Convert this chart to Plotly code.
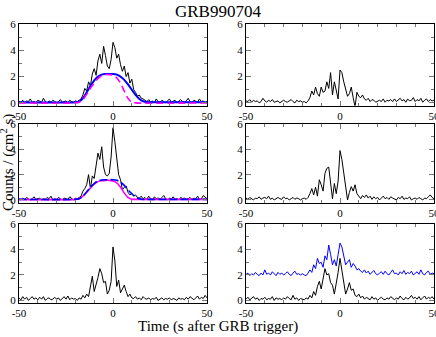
import numpy as np
import plotly.graph_objects as go

# time bins, 1 s wide
t = list(range(-50, 51))
xtick_vals = [-50, 0, 50]
xtick_text = ["-50", "0", "50"]
ytick_vals = [0, 2, 4, 6]

# light curves, counts / (cm^2 s)
p1 = [0.10, 0.05, 0.20, 0.00, 0.15, 0.10, 0.30, 0.05, 0.10, 0.00,
      0.20, 0.10, 0.05, 0.35, 0.10, 0.00, 0.15, 0.05, 0.20, 0.10,
      0.00, 0.10, 0.25, 0.05, 0.10, 0.15, 0.00, 0.20, 0.10, 0.05,
      0.15, 0.10, 0.20, 0.30, 0.60, 1.10, 0.90, 1.60, 1.30, 2.20,
      2.60, 2.10, 3.20, 3.70, 3.00, 4.30, 3.60, 2.80, 2.60, 3.30,
      4.60, 4.20, 3.40, 3.70, 2.90, 2.40, 2.80, 2.00, 2.30, 1.50,
      1.80, 1.00, 0.80, 0.50, 0.60, 0.35, 0.30, 0.20, 0.10, 0.25,
      0.05, 0.15, 0.00, 0.30, 0.10, 0.05, 0.20, 0.10, 0.00, 0.15,
      0.30, 0.05, 0.10, 0.20, 0.00, 0.10, 0.25, 0.10, 0.05, 0.15,
      0.35, 0.10, 0.00, 0.20, 0.10, 0.05, 0.30, 0.10, 0.15, 0.00,
      0.10]

p2 = [0.15, 0.10, 0.25, 0.05, 0.20, 0.10, 0.15, 0.00, 0.10, 0.35,
      0.15, 0.05, 0.20, 0.10, 0.25, 0.05, 0.10, 0.15, 0.00, 0.10,
      0.20, 0.10, 0.05, 0.15, 0.25, 0.10, 0.00, 0.20, 0.10, 0.15,
      0.05, 0.10, 0.00, 0.15, 0.40, 0.90, 0.60, 1.20, 0.70, 0.50,
      1.20, 0.80, 0.90, 1.60, 1.10, 2.30, 0.60, 1.60, 1.00, 0.30,
      2.50, 2.30, 1.60, 1.10, 0.50, 0.70, 1.20, 0.40, -0.30, 0.80,
      0.50, 0.40, 0.60, 0.30, 0.20, 0.35, 0.10, 0.25, 0.20, 0.05,
      0.15, 0.20, 0.10, 0.30, 0.05, 0.20, 0.15, 0.25, 0.10, 0.30,
      0.10, 0.20, 0.35, 0.15, 0.25, 0.05, 0.30, 0.15, 0.20, 0.40,
      0.10, 0.25, 0.15, 0.35, 0.05, 0.20, 0.30, 0.10, 0.25, 0.15,
      0.20]

p3 = [0.10, 0.00, 0.15, 0.05, 0.20, 0.10, 0.00, 0.10, 0.25, 0.05,
      0.10, 0.15, 0.00, 0.10, 0.05, 0.20, 0.10, 0.30, 0.00, 0.10,
      0.05, 0.20, 0.10, 0.00, 0.15, 0.10, 0.05, 0.25, 0.10, 0.00,
      0.15, 0.10, 0.20, 0.30, 0.70, 0.90, 1.20, 2.00, 0.90, 1.90,
      1.70, 2.80, 3.70, 3.20, 4.20, 2.60, 2.00, 1.90, 2.10, 3.40,
      5.70, 4.60, 3.50, 2.00, 1.60, 0.80, 1.00, 1.10, 0.60, 0.40,
      0.50, 0.30, 0.40, 0.20, 0.15, 0.30, 0.10, 0.20, 0.05, 0.30,
      0.10, 0.00, 0.25, 0.10, 0.15, 0.05, 0.20, 0.35, 0.10, 0.00,
      0.15, 0.10, 0.25, 0.05, 0.10, 0.00, 0.20, 0.10, 0.15, 0.05,
      0.10, 0.20, 0.00, 0.15, 0.10, 0.30, 0.05, 0.10, 0.35, 0.20,
      0.10]

p4 = [0.15, 0.05, 0.20, 0.10, 0.00, 0.15, 0.10, 0.25, 0.05, 0.15,
      0.20, 0.10, 0.30, 0.05, 0.15, 0.00, 0.10, 0.20, 0.10, 0.05,
      0.25, 0.10, 0.15, 0.00, 0.10, 0.20, 0.05, 0.15, 0.10, 0.00,
      0.10, 0.15, 0.05, 0.20, 0.50, 0.90, 0.40, 1.00, 0.30, 1.60,
      1.20, 0.70, 2.10, 2.50, 2.60, 1.20, 0.10, 1.30, 0.50, 1.50,
      3.90, 3.20, 2.00, 0.80, 0.00, 0.60, 1.05, 0.70, 1.20, 0.50,
      0.30, 0.10, 0.35, 0.20, 0.40, 0.15, 0.30, 0.05, 0.25, 0.10,
      0.20, 0.00, 0.15, 0.30, 0.10, 0.20, 0.05, 0.25, 0.15, 0.10,
      0.00, 0.20, 0.10, 0.30, 0.05, 0.15, 0.10, 0.25, 0.00, 0.10,
      0.15, 0.05, 0.20, 0.10, 0.00, 0.15, 0.10, 0.25, 0.40, 0.20,
      0.10]

p5 = [0.20, 0.05, 0.30, 0.10, 0.25, 0.00, 0.15, 0.30, 0.10, 0.20,
      0.05, 0.25, 0.10, 0.30, 0.00, 0.15, 0.20, 0.05, 0.10, 0.25,
      0.10, 0.20, 0.00, 0.15, 0.30, 0.10, 0.35, 0.05, 0.20, 0.10,
      0.15, 0.00, 0.20, 0.10, 0.40, 0.20, 0.50, 0.30, 1.00, 1.90,
      0.70, 1.20, 1.80, 2.50, 2.10, 1.40, 1.50, 0.50, 0.80, 1.50,
      4.20, 3.10, 1.10, 1.60, 0.60, 0.90, 1.20, 0.70, 0.30, 0.50,
      0.20, 0.15, 0.30, 0.10, 0.20, 0.05, 0.30, 0.15, 0.10, 0.20,
      0.05, 0.15, 0.10, 0.25, 0.00, 0.10, 0.20, 0.05, 0.15, 0.10,
      0.20, 0.05, 0.15, 0.10, 0.00, 0.20, 0.10, 0.15, 0.05, 0.25,
      0.10, 0.30, 0.15, 0.05, 0.20, 0.35, 0.10, 0.25, 0.15, 0.40,
      0.20]

p6 = [0.10, 0.25, 0.05, 0.15, 0.30, 0.10, 0.20, 0.00, 0.15, 0.10,
      0.25, 0.05, 0.15, 0.10, 0.30, 0.00, 0.20, 0.10, 0.15, 0.05,
      0.20, 0.10, 0.30, 0.15, 0.05, 0.40, 0.10, 0.20, 0.00, 0.15,
      0.10, 0.05, 0.20, 0.10, 0.40, 0.20, 0.70, 0.40, 1.10, 1.50,
      0.90, 1.60, 2.50, 2.00, 2.10, 1.40, 1.20, 0.50, 1.30, 2.20,
      3.30, 2.30, 1.50, 0.50, 0.90, 1.40, 0.80, 0.90, 0.40, 0.30,
      0.50, 0.20, 0.35, 0.10, 0.25, 0.15, 0.05, 0.30, 0.10, 0.20,
      0.00, 0.15, 0.25, 0.10, 0.05, 0.20, 0.10, 0.30, 0.15, 0.05,
      0.20, 0.10, 0.35, 0.15, 0.05, 0.25, 0.10, 0.20, 0.40, 0.15,
      0.25, 0.10, 0.30, 0.05, 0.20, 0.35, 0.10, 0.25, 0.15, 0.30,
      0.10]

p6_blue = [2.05, 2.15, 1.95, 2.10, 2.00, 2.20, 2.05, 1.95, 2.15, 2.00,
           2.40, 2.05, 2.15, 2.00, 2.25, 2.10, 1.95, 2.20, 2.05, 2.15,
           2.00, 2.10, 2.25, 2.05, 1.95, 2.15, 2.30, 2.05, 2.10, 2.00,
           2.10, 2.00, 1.95, 2.15, 2.40, 2.20, 2.80, 2.50, 3.30, 2.90,
           3.00, 2.60, 3.50, 3.20, 4.35, 3.60, 2.80, 3.20, 2.70, 3.60,
           4.50, 4.20, 3.50, 2.80, 3.00, 3.20, 2.60, 2.90, 2.70, 2.40,
           2.50, 2.30, 2.20, 2.40, 2.15, 2.30, 2.05, 2.20, 2.35, 2.10,
           2.00, 2.15, 2.25, 2.05, 2.30, 2.10, 2.00, 2.20, 2.40, 2.10,
           2.15, 2.00, 2.25, 2.10, 2.35, 2.05, 2.20, 2.10, 2.30, 2.00,
           2.15, 2.25, 2.05, 2.40, 2.10, 2.00, 2.20, 2.30, 2.05, 2.15,
           2.10]

# pulse fits (panel 1 and 3)
fit1_t = [-50, -20, -18, -16, -14, -12, -10, -8, -6, -4, -2, 0, 2, 4, 6, 8, 10, 12, 14, 16, 18, 20, 50]
fit1_blue = [0.05, 0.05, 0.1, 0.35, 0.8, 1.3, 1.7, 2.0, 2.15, 2.2, 2.2, 2.2, 2.15, 2.0, 1.75, 1.4, 1.0, 0.6, 0.3, 0.12, 0.06, 0.05, 0.05]
fit1m_t = [-50, -20, -18, -16, -14, -12, -10, -8, -6, -4, -2, 0, 2, 4, 6, 8, 10, 12, 50]
fit1_mag = [0.0, 0.0, 0.05, 0.25, 0.65, 1.1, 1.5, 1.85, 2.05, 2.15, 2.15, 2.1, 1.9, 1.5, 0.9, 0.35, 0.05, 0.0, 0.0]

fit3_t = [-50, -20, -18, -16, -14, -12, -10, -8, -6, -4, -2, 0, 2, 4, 6, 8, 10, 12, 14, 16, 18, 50]
fit3_blue = [0.05, 0.05, 0.1, 0.3, 0.65, 1.0, 1.3, 1.5, 1.58, 1.6, 1.6, 1.6, 1.55, 1.4, 1.15, 0.8, 0.5, 0.25, 0.1, 0.05, 0.05, 0.05]
fit3m_t = [-50, -20, -18, -16, -14, -12, -10, -8, -6, -4, -2, 0, 2, 4, 6, 8, 10, 12, 50]
fit3_mag = [0.05, 0.05, 0.1, 0.3, 0.6, 0.95, 1.25, 1.45, 1.52, 1.55, 1.55, 1.5, 1.35, 1.0, 0.55, 0.2, 0.06, 0.05, 0.05]

for s in (p1, p2, p3, p4, p5, p6, p6_blue):
    assert len(s) == len(t)

FONT = "Liberation Serif, Times New Roman, serif"
BLUE = "#0000ff"
MAG = "#ff00ff"

fig = go.Figure()

def add(x, y, k, color="black", width=1, dash="solid", shape="linear"):
    fig.add_trace(go.Scatter(x=x, y=y, mode="lines", xaxis="x%d" % k, yaxis="y%d" % k,
                             line=dict(color=color, width=width, dash=dash, shape=shape),
                             showlegend=False, hoverinfo="skip"))

add(t, p1, 1)
add(fit1_t, fit1_blue, 1, BLUE, 2, shape="spline")
add(fit1m_t, fit1_mag, 1, MAG, 1.6, dash="7px,4px", shape="spline")
add(t, p2, 2)
add(t, p3, 3)
add(fit3m_t, fit3_mag, 3, MAG, 1.6, shape="spline")
add(fit3_t, fit3_blue, 3, BLUE, 1.6, dash="8px,3px", shape="spline")
add(t, p4, 4)
add(t, p5, 5)
add(t, p6, 6)
add(t, p6_blue, 6, BLUE, 1)

W, H = 436, 337
xdom = [[19 / W, 207 / W], [246 / W, 434 / W]]
ydom = [[1 - 105.5 / H, 1 - 24 / H], [1 - 202.5 / H, 1 - 124 / H], [1 - 303 / H, 1 - 224 / H]]

lay = {}
for k in range(1, 7):
    row, col = (k - 1) // 2, (k - 1) % 2
    sfx = "" if k == 1 else str(k)
    lay["xaxis" + sfx] = dict(domain=xdom[col], anchor="y" + sfx if sfx else "y", range=[-50, 50],
                              tickvals=xtick_vals, ticktext=xtick_text,
                              ticks="inside", ticklen=5, tickcolor="#777",
                              minor=dict(dtick=10, ticklen=3, ticks="inside", tickcolor="#777"),
                              showline=True, linecolor="black", linewidth=1, mirror="allticks",
                              showgrid=False, zeroline=False, automargin=False,
                              ticklabeloverflow="allow",
                              tickfont=dict(family=FONT, size=11, color="black"))
    lay["yaxis" + sfx] = dict(domain=ydom[row], anchor="x" + sfx if sfx else "x", range=[-0.2, 6],
                              tickvals=ytick_vals, ticks="inside", ticklen=5, tickcolor="#777",
                              minor=dict(dtick=1, ticklen=3, ticks="inside", tickcolor="#777"),
                              showline=True, linecolor="black", linewidth=1, mirror="allticks",
                              showgrid=False, zeroline=False, automargin=False,
                              ticklabeloverflow="allow",
                              tickfont=dict(family=FONT, size=11, color="black"))

fig.update_layout(**lay)
fig.update_layout(
    width=W, height=H,
    margin=dict(l=0, r=0, t=0, b=0),
    paper_bgcolor="white", plot_bgcolor="white",
    annotations=[
        dict(text="GRB990704", x=0.5, y=1 - 11 / H, xref="paper", yref="paper",
             xanchor="center", yanchor="middle",
             showarrow=False, font=dict(family=FONT, size=17, color="black")),
        dict(text="Time (s after GRB trigger)", x=0.5, y=1 - 326 / H, xref="paper", yref="paper",
             xanchor="center", yanchor="middle",
             showarrow=False, font=dict(family=FONT, size=15, color="black")),
        dict(text="Counts / (cm<sup>2</sup> s)", x=8 / W, y=1 - 163 / H, xref="paper", yref="paper",
             xanchor="center", yanchor="middle",
             textangle=-90, showarrow=False, font=dict(family=FONT, size=15, color="black")),
    ],
)

# page body has a default 8px margin; drop it so the figure sits at the window corner
fig.write_html("out.html", config={"displayModeBar": False},
               post_script="document.body.style.margin='0';")
